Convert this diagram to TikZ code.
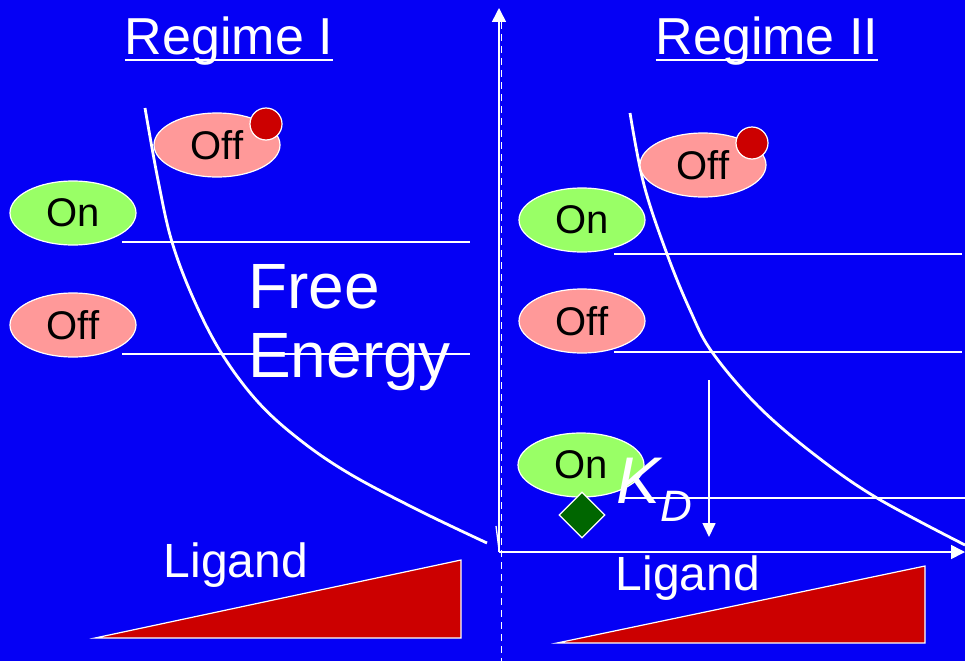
\documentclass[tikz,border=0pt]{standalone}
\usepackage{fontspec}
\setmainfont{Liberation Sans}
\usetikzlibrary{arrows.meta,shapes.geometric}
\definecolor{bg}{RGB}{5,0,245}
\definecolor{ongreen}{RGB}{153,255,102}
\definecolor{offpink}{RGB}{255,153,153}
\definecolor{dotred}{RGB}{204,0,0}
\definecolor{diag}{RGB}{0,102,0}
\tikzset{
  state/.style={ellipse,draw=white,line width=1.2pt,minimum width=126pt,minimum height=64pt,inner sep=0pt,font=\fontsize{40}{40}\selectfont,text=black},
  onstate/.style={state,fill=ongreen},
  offstate/.style={state,fill=offpink},
  dot/.style={circle,draw=white,line width=1.2pt,fill=dotred,minimum size=32pt,inner sep=0pt},
  wline/.style={white,line width=2.2pt},
  curve/.style={white,line width=2.8pt},
  title/.style={text=white,font=\fontsize{52}{52}\selectfont,inner sep=0pt,anchor=base},
  uline/.style={white,line width=2.2pt},
  lig/.style={text=white,font=\fontsize{48}{48}\selectfont,inner sep=0pt},
  ramp/.style={fill=dotred,draw=white,line width=1.2pt},
}
\begin{document}
\begin{tikzpicture}[x=1pt,y=-1pt]
\fill[bg] (0,0) rectangle (965,661);
\useasboundingbox (0,0) rectangle (965,661);
% titles
\node[title] (t1) at (229,55) {Regime I};
\node[title] (t2) at (767,55) {Regime II};
\draw[uline] ([yshift=-5pt]t1.base west) -- ([yshift=-5pt]t1.base east);
\draw[uline] ([yshift=-5pt]t2.base west) -- ([yshift=-5pt]t2.base east);
% axes
\coordinate (ytop) at (499,8);
\coordinate (orig) at (499,552);
\coordinate (xend) at (965,552);
\draw[white,line width=1.6pt,-{Triangle[length=14pt,width=14pt]}] (orig) -- (ytop);
\draw[white,line width=1.6pt,-{Triangle[length=14pt,width=14pt]}] (orig) -- (xend);
\coordinate (dtop) at (501.5,22);
\coordinate (dbot) at (501.5,661);
\draw[white,line width=1.4pt,dash pattern=on 7pt off 5pt] (dtop) -- (dbot);
\coordinate (s1) at (496,526);
\coordinate (s2) at (499,550);
\draw[white,line width=1.3pt] (s1) -- (s2);
% level lines left
\coordinate (l1a) at (122,242); \coordinate (l1b) at (470,242);
\coordinate (l2a) at (122,354); \coordinate (l2b) at (470,354);
\draw[wline] (l1a) -- (l1b);
\draw[wline] (l2a) -- (l2b);
% level lines right
\coordinate (r1a) at (614,254); \coordinate (r1b) at (962,254);
\coordinate (r2a) at (614,352); \coordinate (r2b) at (962,352);
\coordinate (r3a) at (622,498); \coordinate (r3b) at (965,498);
\draw[wline] (r1a) -- (r1b);
\draw[wline] (r2a) -- (r2b);
\draw[wline] (r3a) -- (r3b);
% down arrow
\coordinate (da) at (709,380); \coordinate (db) at (709,537);
\draw[white,line width=1.6pt,-{Triangle[length=14pt,width=13pt]}] (da) -- (db);
% curves
\draw[curve] plot[smooth,tension=0.6] coordinates {(145,108) (158,180) (172,242) (194,300) (222,354) (258,402) (300,440) (350,474) (420,511) (487,543)};
\draw[curve] plot[smooth,tension=0.6] coordinates {(630,113) (644,185) (667,254) (690,310) (712,352) (758,406) (815,455) (877,498) (965,545)};
% free energy
\node[text=white,font=\fontsize{64}{64}\selectfont,inner sep=0pt,anchor=west] (fe1) at (248,287) {Free};
\node[text=white,font=\fontsize{64}{64}\selectfont,inner sep=0pt,anchor=west] (fe2) at (248,362) {Energy};
% states left
\node[offstate] (off1) at (217,145) {Off};
\node[dot] (d1) at (266,124) {};
\node[onstate] (on1) at (73,213) {On};
\node[offstate] (off2) at (73,325) {Off};
% states right
\node[offstate] (off3) at (703,165) {Off};
\node[dot] (d2) at (752,143) {};
\node[onstate] (on2) at (582,220) {On};
\node[offstate] (off4) at (582,321) {Off};
\node[onstate] (on3) at (581,465) {On};
\node[diamond,fill=diag,draw=white,line width=1.2pt,minimum size=46pt,inner sep=0pt] (lig) at (582,515) {};
% KD
\node[text=white,inner sep=0pt,anchor=west] (kd) at (616,490) {\fontsize{66}{66}\selectfont\itshape K\raisebox{-18pt}{\fontsize{44}{44}\selectfont D}};
% ligand ramps
\node[lig] (lg1) at (236,565) {Ligand};
\node[lig] (lg2) at (688,578) {Ligand};
\coordinate (a1) at (95,638); \coordinate (a2) at (461,560); \coordinate (a3) at (461,638);
\draw[ramp] (a1) -- (a2) -- (a3) -- cycle;
\coordinate (b1) at (557,643); \coordinate (b2) at (925,566); \coordinate (b3) at (925,643);
\draw[ramp] (b1) -- (b2) -- (b3) -- cycle;
\end{tikzpicture}
\end{document}
